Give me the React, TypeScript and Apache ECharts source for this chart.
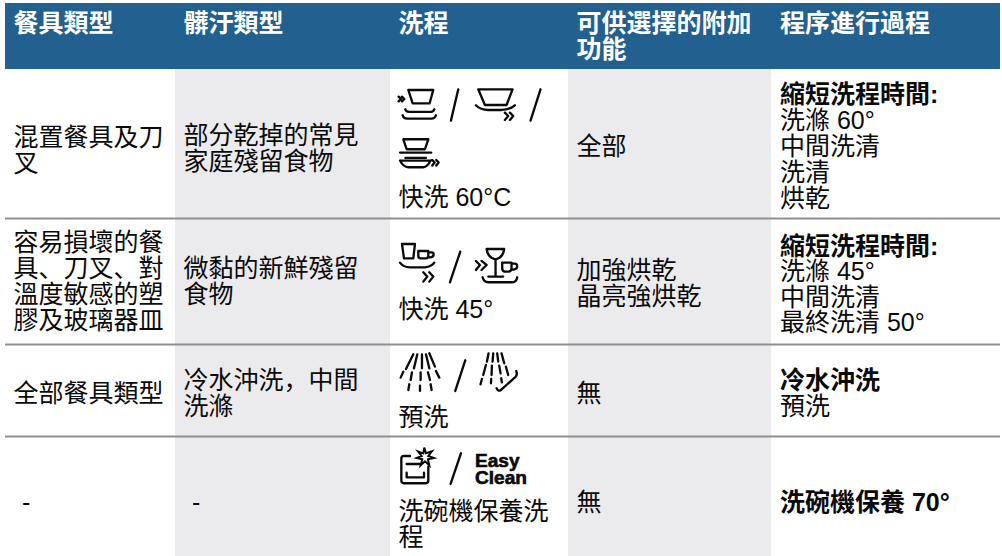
import React, { useEffect, useRef } from "react";
import * as echarts from "echarts";

const headers = [["餐具類型"], ["髒汙類型"], ["洗程"], ["可供選擇的附加", "功能"], ["程序進行過程"]];
const dishTypes = [
  ["混置餐具及刀", "叉"],
  ["容易損壞的餐", "具、刀叉、對", "溫度敏感的塑", "膠及玻璃器皿"],
  ["全部餐具類型"],
  ["-"],
];
const soilTypes = [
  ["部分乾掉的常見", "家庭殘留食物"],
  ["微黏的新鮮殘留", "食物"],
  ["冷水沖洗，中間", "洗滌"],
  ["-"],
];
const programmes = [["快洗 60°C"], ["快洗 45°"], ["預洗"], ["洗碗機保養洗", "程"]];
const options = [["全部"], ["加強烘乾", "晶亮強烘乾"], ["無"], ["無"]];
const sequences = [
  ["洗滌 60°", "中間洗清", "洗清", "烘乾"],
  ["洗滌 45°", "中間洗清", "最終洗清 50°"],
  ["預洗"],
  [],
];
const sequenceTitles = ["縮短洗程時間:", "縮短洗程時間:", "冷水沖洗", "洗碗機保養 70°"];
const easyClean = ["Easy", "Clean"];

const FONT = '"Liberation Sans", "Noto Sans CJK SC", sans-serif';
const FS = 25;
const LH = 26;

const columnX = [13.5, 183.5, 398.5, 576.5, 780];
const firstY = [
  [137, 242, 393, 502],
  [135, 268, 380, 502],
  [197, 309, 417, 511],
  [146, 270, 393, 502],
  [94, 246, 380, 502],
];
const dashX = [22, 192];

const icons: [string, number, number, string][] = [
  ["row1", 390, 70, `M26 80 L33 87 L26 94 M36 80 L43 87 L36 94
    M55 60 H130 L119 100 H68 Z
    M46 118 Q48 126 58 126 H120 Q130 126 133 118
    M38 136 Q40 146 52 146 H125 Q135 146 138 136
    M205 58 L183 152
    M265 58 H368 L350 105 H285 Z
    M258 106 Q272 120 295 120 H335 Q362 118 375 106
    M345 128 L355 138 L345 150 M360 128 L370 138 L360 150
    M452 58 L422 152
    M40 208 H115 L105 238 H50 Z
    M30 248 H124 M46 264 H108
    M30 272 H122 M30 272 Q40 292 55 292 H100 Q112 292 122 272
    M127 270 L134 278 L127 287 M139 270 L146 278 L139 287`],
  ["row2", 390, 225, `M36 57 H75 L70 100 H42 Z
    M85 78 H115 V94 Q115 100 108 100 H92 Q85 100 85 94 Z
    M115 82 H125 Q131 82 131 88 Q131 96 122 97 H113
    M30 113 Q40 127 60 127 H105 Q125 125 133 113
    M100 142 L112 155 L100 170 M118 142 L130 155 L118 170
    M211 80 L180 172
    M258 108 L270 120 L258 135 M275 108 L290 120 L275 135
    M290 72 H343 Q340 98 317 103 Q293 98 290 72 Z
    M317 103 V155 M295 155 H340
    M337 113 H365 V130 Q365 140 355 140 H345 Q337 140 337 130 Z
    M365 116 H375 Q382 116 382 124 Q382 132 372 134 H364
    M278 157 Q282 172 295 172 H365 Q380 172 382 157`],
  ["row3", 390, 345, `M70 28 L48 72 M40 80 L32 98
    M82 28 L72 70 M66 82 L62 105 M58 118 L55 135
    M96 28 V70 M92 82 V105 M90 122 V138
    M108 28 L118 70 M114 82 L120 105 M122 118 L125 135
    M118 25 L135 65 M138 78 L148 98
    M226 46 L196 138
    M296 25 L291 50 M288 60 L280 90 M276 102 L272 118
    M310 25 L308 50 M306 62 L305 90 M304 102 L303 115
    M322 25 L325 50 M328 62 L332 85 M334 100 L336 112
    M335 25 L343 55 M348 65 L355 90
    M379 78 Q385 92 372 100 L332 136 Q325 140 320 130`],
  ["row4", 390, 436, `M60 60 H42 Q34 60 34 68 V134 Q34 142 42 142 H108 Q115 142 115 134 V92
    M50 84 H90 M50 110 V124 H102 V110
    M213 52 L182 144`],
];
const star = "M103 35 L108 52 L126 46 L115 60 L132 66 L114 70 L118 88 L105 76 L92 88 L97 70 L80 66 L95 60 L84 46 L100 52 Z";

export default function App() {
  const ref = useRef<HTMLDivElement>(null);
  useEffect(() => {
    const chart = echarts.init(ref.current!, null, { renderer: "svg" });
    const g: any[] = [];
    const text = (s: string, x: number, y: number, o: any = {}) =>
      g.push({
        type: "text",
        x,
        y,
        style: { text: s, font: `${o.bold ? "bold " : ""}${o.size || FS}px ${FONT}`, fill: o.fill || "#0a0a0a", verticalAlign: "middle", align: "left", ...(o.style || {}) },
        ...(o.extra || {}),
      });

    g.push({ type: "rect", shape: { x: 175, y: 69, width: 215, height: 487 }, style: { fill: "#ebebed" } });
    g.push({ type: "rect", shape: { x: 568, y: 69, width: 203, height: 487 }, style: { fill: "#ebebed" } });
    g.push({ type: "rect", shape: { x: 5, y: 3, width: 995, height: 66 }, style: { fill: "#21608f" } });
    [218.5, 344.5, 436.5].forEach((y) =>
      g.push({ type: "rect", shape: { x: 5, y: y - 1, width: 995, height: 2 }, style: { fill: "#8f8f8f" } })
    );

    headers.forEach((lines, c) =>
      lines.forEach((s, i) => text(s, columnX[c], 23 + i * 26, { bold: true, fill: "#fff" }))
    );

    [dishTypes, soilTypes, programmes, options].forEach((col, c) =>
      col.forEach((lines, r) =>
        lines.forEach((s, i) => text(s, s === "-" ? dashX[c] : columnX[c], firstY[c][r] + i * LH))
      )
    );
    sequenceTitles.forEach((s, r) => {
      text(s, columnX[4], firstY[4][r], { bold: true });
      sequences[r].forEach((t, i) => text(t, columnX[4], firstY[4][r] + (i + 1) * (r === 1 ? 25.3 : 26)));
    });

    icons.forEach(([name, x, y, d]) => {
      echarts.graphic.registerShape(name, (echarts.graphic as any).extendPath(d, {}));
      g.push({ type: name, x, y, scaleX: 1 / 3, scaleY: 1 / 3, style: { fill: "none", stroke: "#0a0a0a", lineWidth: 7, lineCap: "round", lineJoin: "round" } });
    });
    echarts.graphic.registerShape("star", (echarts.graphic as any).extendPath(star, {}));
    g.push({ type: "star", x: 390, y: 436, scaleX: 1 / 3, scaleY: 1 / 3, style: { fill: "#fff", stroke: "#0a0a0a", lineWidth: 6 } });

    easyClean.forEach((s, i) =>
      text(s, 475, 461 + i * 17, { bold: true, size: 17.5, extra: { scaleX: 1.09 }, style: { stroke: "#0a0a0a", lineWidth: 0.6 } })
    );

    chart.setOption({ animation: false, backgroundColor: "#fff", graphic: { elements: g } });
    return () => chart.dispose();
  }, []);
  return <div ref={ref} style={{ position: "fixed", left: 0, top: 0, width: 1002, height: 556 }} />;
}
